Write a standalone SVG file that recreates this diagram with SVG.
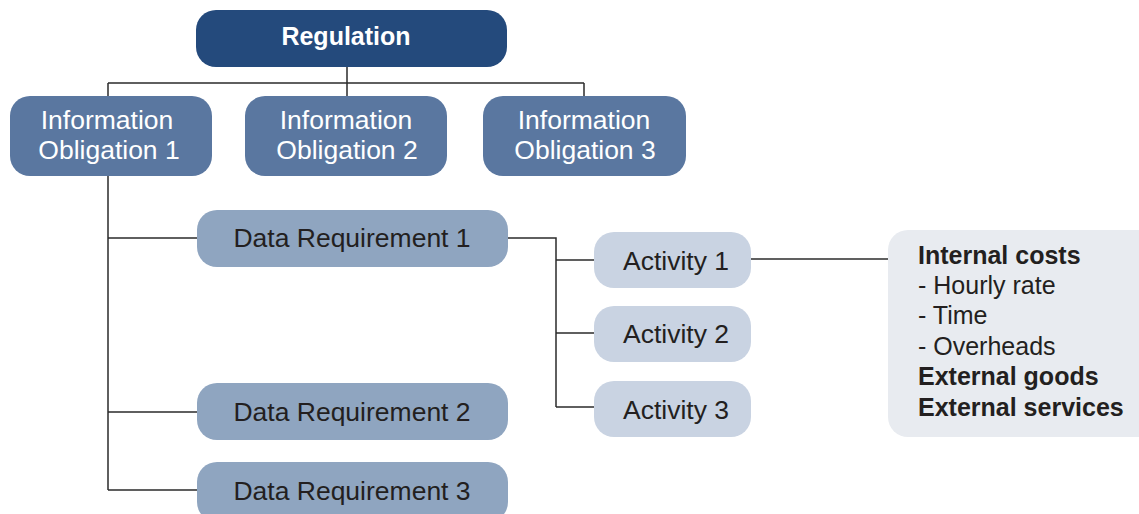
<svg xmlns="http://www.w3.org/2000/svg" width="1139" height="514" viewBox="0 0 1139 514">
  <style>
    .t { font-family: "Liberation Sans", Arial, sans-serif; font-size: 26.5px; text-anchor: middle; }
    .w { fill: #ffffff; }
    .d { fill: #231f20; }
    .b { font-weight: bold; font-size: 25px; }
    .l { font-family: "Liberation Sans", Arial, sans-serif; font-size: 25px; fill: #231f20; }
    .reg { fill: #244a7c; }
    .obl { fill: #5a77a0; }
    .req { fill: #8fa5c0; }
    .act { fill: #c9d3e2; }
    .cost { fill: #e8ebf0; }
    .conn path { fill: none; stroke: #2b2b2b; stroke-width: 1.5; }
  </style>

  <!-- connectors -->
  <g id="connectors" class="conn">
    <path d="M347 67 V83 M108 83 H584 M108 83 V96 M347 83 V96 M584 83 V96"/>
    <path d="M108 176 V490 M108 238 H197 M108 412 H197 M108 490 H197"/>
    <path d="M508 238 H556 V407 M556 260 H594 M556 333 H594 M556 407 H594"/>
    <path d="M751 259 H888"/>
  </g>

  <g id="regulation">
    <rect class="reg" x="196" y="10" width="311" height="57" rx="20"/>
    <text class="t w b" x="346" y="45">Regulation</text>
  </g>

  <g id="obligation1">
    <rect class="obl" x="10" y="96" width="202" height="80" rx="20"/>
    <text class="t w" x="107" y="129">Information</text>
    <text class="t w" x="109" y="159">Obligation 1</text>
  </g>
  <g id="obligation2">
    <rect class="obl" x="245" y="96" width="202" height="80" rx="20"/>
    <text class="t w" x="346" y="129">Information</text>
    <text class="t w" x="347" y="159">Obligation 2</text>
  </g>
  <g id="obligation3">
    <rect class="obl" x="483" y="96" width="203" height="80" rx="20"/>
    <text class="t w" x="584" y="129">Information</text>
    <text class="t w" x="585" y="159">Obligation 3</text>
  </g>

  <g id="requirement1">
    <rect class="req" x="197" y="210" width="311" height="57" rx="20"/>
    <text class="t d" x="352" y="247">Data Requirement 1</text>
  </g>
  <g id="requirement2">
    <rect class="req" x="197" y="383" width="311" height="57" rx="20"/>
    <text class="t d" x="352" y="421">Data Requirement 2</text>
  </g>
  <g id="requirement3">
    <rect class="req" x="197" y="462" width="311" height="60" rx="20"/>
    <text class="t d" x="352" y="500">Data Requirement 3</text>
  </g>

  <g id="activity1">
    <rect class="act" x="594" y="232" width="157" height="56" rx="20"/>
    <text class="t d" x="676" y="270">Activity 1</text>
  </g>
  <g id="activity2">
    <rect class="act" x="594" y="306" width="157" height="56" rx="20"/>
    <text class="t d" x="676" y="343">Activity 2</text>
  </g>
  <g id="activity3">
    <rect class="act" x="594" y="381" width="157" height="56" rx="20"/>
    <text class="t d" x="676" y="419">Activity 3</text>
  </g>

  <g id="costs">
    <rect class="cost" x="888" y="230" width="270" height="207" rx="20"/>
    <text class="l b" x="918" y="264">Internal costs</text>
    <text class="l" x="918" y="294">- Hourly rate</text>
    <text class="l" x="918" y="324">- Time</text>
    <text class="l" x="918" y="355">- Overheads</text>
    <text class="l b" x="918" y="385">External goods</text>
    <text class="l b" x="918" y="416">External services</text>
  </g>
</svg>
